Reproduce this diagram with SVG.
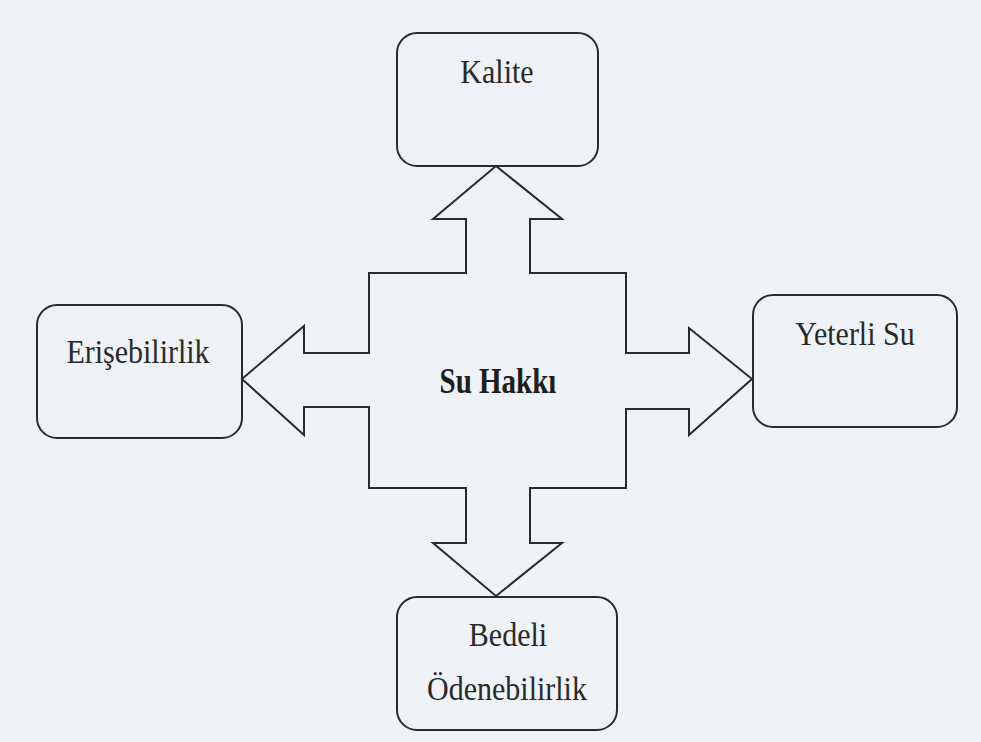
<svg xmlns="http://www.w3.org/2000/svg" width="981" height="742" viewBox="0 0 981 742">
<style>
.box{fill:none;stroke:#2b2b2b;stroke-width:2}
.arrow{fill:none;stroke:#2b2b2b;stroke-width:2;stroke-linejoin:miter}
.lbl{font-family:"Liberation Serif","Times New Roman",serif;font-size:30px;fill:#2a2a2a;text-anchor:middle}
.ctr{font-family:"Liberation Serif","Times New Roman",serif;font-size:29px;font-weight:bold;fill:#1e1e1e;text-anchor:middle}
</style>
<rect width="981" height="742" fill="#eff2f7"/>
<g id="connectors">
<path class="arrow" d="M496,166 L562,219 L530,219 L530,273 L626,273 L626,353 L689,353 L689,328 L752,379 L689,435 L689,409 L626,409 L626,488 L530,488 L530,543 L562,543 L496,596 L433,543 L466,543 L466,488 L369,488 L369,407 L304,407 L304,435 L242,379 L304,326 L304,353 L369,353 L369,273 L466,273 L466,219 L433,219 Z"/>
</g>
<g id="center">
<text class="ctr" x="498" y="393" transform="translate(0,-86.5) scale(1,1.22)">Su Hakkı</text>
</g>
<g id="kalite">
<rect class="box" x="397" y="33" width="201" height="133" rx="20"/>
<text class="lbl" x="497" y="83" transform="translate(0,-8.3) scale(1,1.1)">Kalite</text>
</g>
<g id="erisebilirlik">
<rect class="box" x="37" y="305" width="205" height="133" rx="20"/>
<text class="lbl" x="138" y="363" transform="translate(0,-36.3) scale(1,1.1)">Erişebilirlik</text>
</g>
<g id="yeterli-su">
<rect class="box" x="753" y="295" width="204" height="132" rx="20"/>
<text class="lbl" x="855" y="345" transform="translate(0,-34.5) scale(1,1.1)">Yeterli Su</text>
</g>
<g id="bedeli">
<rect class="box" x="397" y="597" width="220" height="133" rx="20"/>
<text class="lbl" x="508" y="646" transform="translate(0,-64.6) scale(1,1.1)">Bedeli</text>
<text class="lbl" x="507" y="700" transform="translate(0,-70) scale(1,1.1)">Ödenebilirlik</text>
</g>
</svg>
